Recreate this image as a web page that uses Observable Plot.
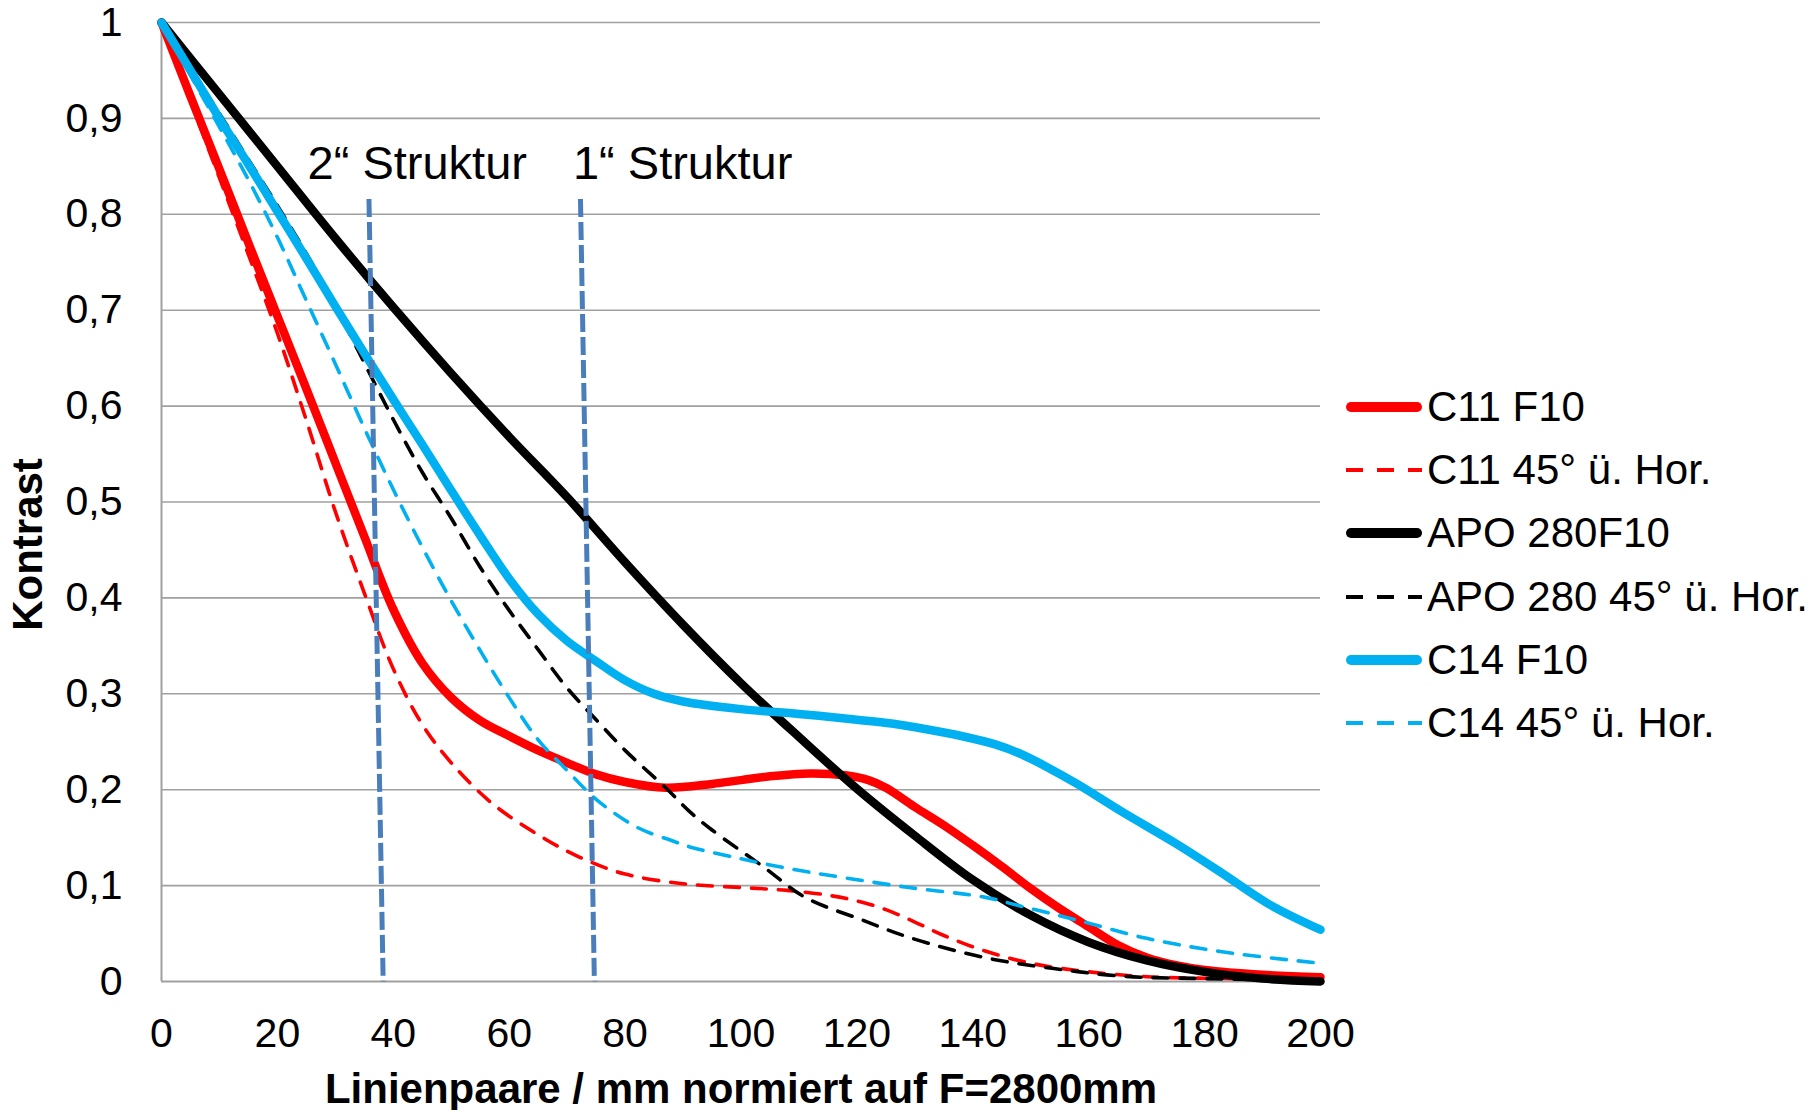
<!DOCTYPE html>
<html><head><meta charset="utf-8">
<script src="https://cdn.jsdelivr.net/npm/d3@7"></script>
<script src="https://cdn.jsdelivr.net/npm/@observablehq/plot@0.6"></script>
<style>
body{margin:0;background:#fff;}
#wrap{position:relative;width:1819px;height:1110px;font-family:"Liberation Sans",Arial,sans-serif;}
#legend{position:absolute;left:1346px;top:375px;}
.row{display:flex;align-items:center;height:63.3px;font-size:42px;color:#000;white-space:nowrap;}
.row svg{margin-right:5px;flex:none;}
</style></head><body><div id="wrap"></div>
<script>
// ---- data (lp/mm, contrast) ----
const seriesNames = ["C11 F10", "C11 45° ü. Hor.", "APO 280F10", "APO 280 45° ü. Hor.", "C14 F10", "C14 45° ü. Hor."];
const c11F10 = [[0,1.0],[5,0.923],[10,0.847],[15,0.77],[20,0.694],[25,0.618],[30,0.541],[35,0.464],[40,0.388],[45,0.332],[50,0.296],[55,0.272],[60,0.256],[65,0.241],[70,0.228],[75,0.216],[80,0.208],[87,0.202],[95,0.206],[100,0.21],[105,0.214],[112,0.217],[118,0.215],[122,0.21],[125,0.202],[130,0.182],[135,0.163],[140,0.142],[145,0.12],[150,0.097],[155,0.076],[160,0.057],[165,0.038],[170,0.025],[175,0.017],[180,0.012],[190,0.007],[200,0.0045]];
const c11Hor = [[0,1.0],[5,0.918],[10,0.838],[15,0.758],[20,0.676],[25,0.585],[30,0.49],[35,0.405],[40,0.326],[45,0.268],[50,0.228],[57,0.186],[65,0.153],[72,0.13],[80,0.112],[90,0.102],[100,0.098],[108,0.095],[115,0.09],[120,0.084],[125,0.075],[130,0.062],[135,0.048],[142,0.032],[150,0.019],[158,0.0115],[170,0.005],[185,0.003],[200,0.002]];
const apoF10 = [[0,1.0],[10,0.925],[20,0.85],[30,0.775],[40,0.703],[50,0.634],[60,0.568],[70,0.505],[80,0.437],[90,0.372],[100,0.311],[110,0.255],[120,0.201],[130,0.152],[140,0.106],[150,0.069],[160,0.041],[170,0.022],[180,0.01],[190,0.003],[200,0.0]];
const apoHor = [[0,1.0],[5,0.952],[10,0.905],[15,0.857],[20,0.809],[25,0.759],[30,0.705],[35,0.645],[40,0.586],[45,0.531],[50,0.483],[55,0.432],[60,0.387],[65,0.346],[70,0.306],[75,0.273],[80,0.241],[87,0.202],[91,0.178],[95,0.158],[104,0.119],[111,0.088],[121,0.064],[129,0.046],[142,0.025],[154,0.0135],[166,0.0055],[180,0.003],[200,0.001]];
const c14F10 = [[0,1.0],[5,0.95],[10,0.9],[15,0.852],[20,0.803],[25,0.754],[30,0.704],[35,0.655],[40,0.607],[45,0.56],[50,0.512],[55,0.465],[60,0.42],[65,0.383],[70,0.355],[75,0.334],[80,0.314],[85,0.300],[90,0.292],[100,0.284],[110,0.279],[120,0.273],[126,0.269],[132,0.263],[138,0.256],[144,0.247],[148,0.238],[153,0.223],[158,0.206],[166,0.176],[175,0.144],[183,0.113],[191,0.081],[200,0.054]];
const c14Hor = [[0,1.0],[5,0.945],[10,0.891],[15,0.836],[20,0.776],[25,0.71],[30,0.644],[35,0.577],[40,0.513],[45,0.453],[50,0.397],[55,0.345],[60,0.296],[65,0.252],[70,0.22],[75,0.19],[82,0.161],[88,0.147],[92,0.139],[100,0.128],[108,0.118],[117,0.109],[129,0.098],[142,0.088],[148,0.079],[158,0.064],[170,0.045],[183,0.031],[200,0.019]];
const seriesValues = [c11F10, c11Hor, apoF10, apoHor, c14F10, c14Hor];

const xTicks = [0,20,40,60,80,100,120,140,160,180,200];
const yTicks = [0,0.1,0.2,0.3,0.4,0.5,0.6,0.7,0.8,0.9,1];
const xLabel = "Linienpaare / mm normiert auf F=2800mm";
const yLabel = "Kontrast";

// structure markers (lp/mm)
const structureLabels = ["2“ Struktur", "1“ Struktur"];
const structureLabelLp = [25.2, 71.0];
const structureLabelContrast = [0.837, 0.837];
const structureTopLp = [35.8, 72.3];
const structureBottomLp = [38.25, 74.7];
const structureTopContrast = [0.816, 0.816];

// ---- styles ----
const colors = ["#ff0000", "#ff0000", "#000000", "#000000", "#00b0f0", "#00b0f0"];
const dashed = [false, true, false, true, false, true];
const font = "Liberation Sans, Arial, sans-serif";

const marks = [
  Plot.ruleY(yTicks.filter(d => d > 0), {stroke: "#a0a0a0", strokeWidth: 1.6}),
  Plot.ruleX([0], {stroke: "#a0a0a0", strokeWidth: 2}),
  Plot.ruleY([0], {stroke: "#a0a0a0", strokeWidth: 2}),
  Plot.axisY(yTicks, {tickSize: 0, tickPadding: 39, fontSize: 41, tickFormat: d => String(d).replace(".", ","), label: null}),
  Plot.axisX(xTicks, {tickSize: 0, tickPadding: 36, fontSize: 41, label: null}),
  Plot.text([yLabel], {frameAnchor: "left", textAnchor: "middle", lineAnchor: "middle", dx: -133, dy: 42.5, rotate: -90, fontWeight: "bold", fontSize: 42, fill: "#000"}),
  Plot.text([xLabel], {frameAnchor: "bottom", lineAnchor: "bottom", dy: 121, fontWeight: "bold", fontSize: 42, fill: "#000"})
];
seriesValues.forEach((vals, i) => {
  marks.push(Plot.line(vals.map(([lp, c]) => ({lp, c})), {
    x: "lp", y: "c", stroke: colors[i], strokeWidth: dashed[i] ? 3.6 : 8.5,
    strokeDasharray: dashed[i] ? "15,12" : null, curve: "catmull-rom"
  }));
});
const structRows = structureLabels.map((label, i) => ({
  label, lx: structureLabelLp[i], ly: structureLabelContrast[i],
  x1: structureTopLp[i], y1: structureTopContrast[i], x2: structureBottomLp[i], y2: 0
}));
marks.push(Plot.link(structRows, {x1: "x1", y1: "y1", x2: "x2", y2: "y2", stroke: "#4a7ebb", strokeWidth: 5, strokeDasharray: "18,5"}));
marks.push(Plot.text(structRows, {x: "lx", y: "ly", text: "label", textAnchor: "start", lineAnchor: "bottom", fontSize: 47, fill: "#000"}));

const chart = Plot.plot({
  width: 1819, height: 1110,
  marginLeft: 161, marginRight: 499, marginTop: 22, marginBottom: 129,
  x: {domain: [0, 200]},
  y: {domain: [0, 1]},
  style: {fontFamily: font, background: "#fff", color: "#000"},
  marks
});
const wrap = document.getElementById("wrap");
wrap.appendChild(chart);

// legend
const legend = document.createElement("div");
legend.id = "legend";
seriesNames.forEach((name, i) => {
  const row = document.createElement("div");
  row.className = "row";
  const ns = "http://www.w3.org/2000/svg";
  const s = document.createElementNS(ns, "svg");
  s.setAttribute("width", 76); s.setAttribute("height", 14);
  const l = document.createElementNS(ns, "line");
  l.setAttribute("x1", dashed[i] ? 0 : 5); l.setAttribute("x2", dashed[i] ? 76 : 71);
  l.setAttribute("y1", 7); l.setAttribute("y2", 7);
  l.setAttribute("stroke", colors[i]);
  l.setAttribute("stroke-width", dashed[i] ? 4 : 10);
  l.setAttribute("stroke-linecap", dashed[i] ? "butt" : "round");
  if (dashed[i]) l.setAttribute("stroke-dasharray", "17,14");
  s.appendChild(l);
  row.appendChild(s);
  const t = document.createElement("span");
  t.textContent = name;
  row.appendChild(t);
  legend.appendChild(row);
});
wrap.appendChild(legend);
</script>
</body></html>
